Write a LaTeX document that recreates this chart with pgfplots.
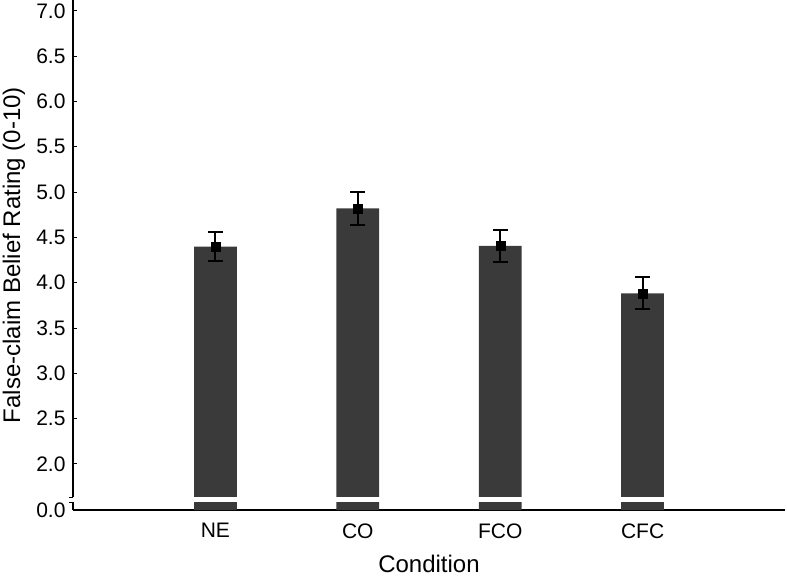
\documentclass[border=0pt]{standalone}
\usepackage{fontspec}
\setmainfont{Liberation Sans}
\usepackage{pgfplots}
\pgfplotsset{compat=1.18}
\definecolor{barfill}{HTML}{3A3A3A}

% y axis is broken: 0.0 sits at 1.492 in plot units, 2.0 .. 7.0 are true values
\begin{document}
\begin{tikzpicture}
\begin{axis}[
  scale only axis,
  width=712pt, height=510pt,
  xmin=-1, xmax=4,
  ymin=1.492, ymax=7.121,
  axis x line*=bottom,
  axis y line*=left,
  axis line style={line width=1.5pt, black},
  xtick={0,1,2,3},
  xticklabels={NE, CO, FCO, CFC},
  major x tick style={draw=none},
  ytick={1.492,2,2.5,3,3.5,4,4.5,5,5.5,6,6.5,7},
  yticklabels={0.0,2.0,2.5,3.0,3.5,4.0,4.5,5.0,5.5,6.0,6.5,7.0},
  tick align=inside,
  major tick length=4pt,
  major y tick style={line width=1pt, black},
  tick label style={font=\fontsize{21}{22}\selectfont},
  xticklabel style={yshift=-10pt},
  yticklabel style={xshift=-4pt},
  xlabel={Condition},
  ylabel={False-claim Belief Rating (0-10)},
  label style={font=\fontsize{24}{25}\selectfont},
  xlabel style={at={(axis description cs:0.5,0)}, anchor=base, yshift=-62pt},
  ylabel style={at={(axis description cs:0,0.5)}, anchor=center, yshift=59pt},
]
\addplot[ybar, bar width=0.3, fill=barfill, draw=none] coordinates {
  (0,4.398) (1,4.822) (2,4.406) (3,3.884)
};
\addplot[only marks, mark=square*, mark size=4.5pt, black,
  error bars/.cd, y dir=both, y explicit,
  error bar style={line width=2pt, black},
  error mark options={rotate=90, mark size=7.5pt, line width=2pt, black}]
  coordinates {
  (0,4.398) +- (0,0.162)
  (1,4.822) +- (0,0.184)
  (2,4.406) +- (0,0.175)
  (3,3.884) +- (0,0.178)
};
\coordinate (gapA) at (axis cs:-1,1.577);
\coordinate (gapB) at (axis cs:4,1.630);
\end{axis}
% axis break
\fill[white] ([xshift=-2pt]gapA) rectangle (gapB);
\draw[line width=1.2pt] (gapA) -- ++(-4pt,0);
\draw[line width=1.2pt] (gapA |- gapB) -- ++(-4pt,0);
\pgfresetboundingbox
\path[use as bounding box] (-73pt,-66pt) rectangle (714pt,510pt);
\end{tikzpicture}
\end{document}
